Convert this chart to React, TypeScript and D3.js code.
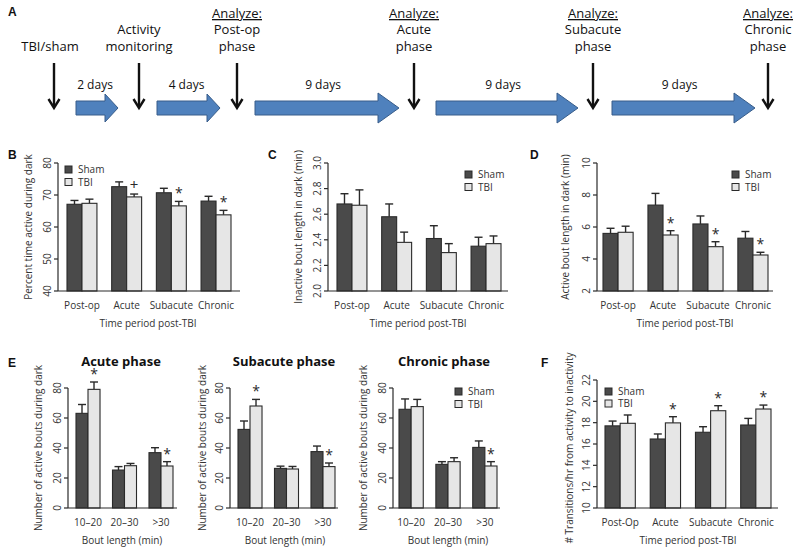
import React from "react";
import * as d3 from "d3";

// ---------- data ----------
const periods = ["Post-op", "Acute", "Subacute", "Chronic"];
const periodsF = ["Post-Op", "Acute", "Subacute", "Chronic"];
const boutBins = ["10–20", "20–30", ">30"];

const shamB = [67.1, 72.6, 70.7, 68.1];
const shamBErr = [1.2, 1.5, 1.4, 1.5];
const tbiB = [67.4, 69.4, 66.6, 63.8];
const tbiBErr = [1.3, 0.9, 1.4, 1.4];
const sigB = ["", "+", "*", "*"];
const ticksB = [40, 50, 60, 70, 80];

const shamC = [2.68, 2.58, 2.41, 2.35];
const shamCErr = [0.08, 0.1, 0.1, 0.07];
const tbiC = [2.67, 2.38, 2.3, 2.37];
const tbiCErr = [0.12, 0.08, 0.07, 0.06];
const sigC = ["", "", "", ""];
const ticksC = [2.0, 2.2, 2.4, 2.6, 2.8, 3.0];

const shamD = [5.6, 7.37, 6.19, 5.3];
const shamDErr = [0.32, 0.73, 0.5, 0.42];
const tbiD = [5.67, 5.5, 4.77, 4.25];
const tbiDErr = [0.38, 0.27, 0.31, 0.17];
const sigD = ["", "*", "*", "*"];
const ticksD = [2, 4, 6, 8, 10];

const shamEAcute = [63.1, 25.3, 36.9];
const shamEAcuteErr = [5.9, 2.3, 3.3];
const tbiEAcute = [79.1, 28.2, 28.0];
const tbiEAcuteErr = [4.9, 1.5, 2.9];
const sigEAcute = ["*", "", "*"];

const shamESub = [52.4, 26.4, 37.6];
const shamESubErr = [5.6, 1.5, 3.7];
const tbiESub = [68.0, 26.0, 27.6];
const tbiESubErr = [4.4, 1.7, 2.4];
const sigESub = ["*", "", "*"];

const shamEChr = [65.8, 29.1, 40.4];
const shamEChrErr = [6.9, 1.8, 4.3];
const tbiEChr = [67.6, 30.9, 28.0];
const tbiEChrErr = [4.8, 2.6, 2.9];
const sigEChr = ["", "", "*"];
const ticksE = [0, 20, 40, 60, 80];

const shamF = [17.7, 16.47, 17.1, 17.78];
const shamFErr = [0.45, 0.47, 0.52, 0.62];
const tbiF = [17.94, 17.98, 19.12, 19.28];
const tbiFErr = [0.78, 0.58, 0.47, 0.37];
const sigF = ["", "*", "*", "*"];
const ticksF = [10, 12, 14, 16, 18, 20, 22];

const timelineEvents = [
  { head: "", lines: ["TBI/sham"] },
  { head: "", lines: ["Activity", "monitoring"] },
  { head: "Analyze:", lines: ["Post-op", "phase"] },
  { head: "Analyze:", lines: ["Acute", "phase"] },
  { head: "Analyze:", lines: ["Subacute", "phase"] },
  { head: "Analyze:", lines: ["Chronic", "phase"] },
];
const dayLabels = ["2 days", "4 days", "9 days", "9 days", "9 days"];

// ---------- styles ----------
const FONT = "'Open Sans', 'DejaVu Sans', sans-serif";
const SHAM_FILL = "#4a4a4a";
const TBI_FILL = "#e6e6e6";
const INK = "#2a2a2a";

type PanelProps = {
  cats: string[];
  sham: number[];
  shamErr: number[];
  tbi: number[];
  tbiErr: number[];
  sig: string[];
  domain: [number, number];
  ticks: number[];
  fmt?: (v: number) => string;
  axisX: number;
  axisEnd: number;
  band: [number, number];
  pad: number;
  yTop: number;
  yBottom: number;
  ylabel: string;
  ylabelX: number;
  ylabelY: number;
  xlabel: string;
  xlabelX: number;
  xlabelY: number;
  catY: number;
  legend?: { x: number; y: number; gap: number };
  title?: { text: string; x: number; y: number };
  letter?: { text: string; x: number; y: number };
};

function BarPanel(p: PanelProps) {
  const y = d3.scaleLinear().domain(p.domain).range([p.yBottom, p.yTop]);
  const x = d3.scaleBand<string>().domain(p.cats).range(p.band).paddingInner(p.pad).paddingOuter(0);
  const bw = x.bandwidth() / 2;
  const fmt = p.fmt || ((v: number) => String(v));
  const capW = 4;
  const bars: any[] = [];
  p.cats.forEach((c, i) => {
    const x0 = x(c)!;
    const groups = [
      { v: p.sham[i], e: p.shamErr[i], fill: SHAM_FILL, xx: x0 },
      { v: p.tbi[i], e: p.tbiErr[i], fill: TBI_FILL, xx: x0 + bw },
    ];
    groups.forEach((g, k) => {
      const top = y(g.v);
      const et = y(g.v + g.e);
      const cx = g.xx + bw / 2;
      bars.push(
        <g key={c + k}>
          <line x1={cx} x2={cx} y1={top} y2={et} stroke={INK} strokeWidth={1.4} />
          <line x1={cx - capW} x2={cx + capW} y1={et} y2={et} stroke={INK} strokeWidth={1.4} />
          <rect x={g.xx} y={top} width={bw} height={p.yBottom - top} fill={g.fill} stroke={INK} strokeWidth={1.1} />
        </g>
      );
    });
    const s = p.sig[i];
    if (s) {
      const cx = x0 + bw + bw / 2;
      const et = y(p.tbi[i] + p.tbiErr[i]);
      bars.push(
        <text key={"s" + c} x={cx} y={s === "+" ? et - 4 : et - 3} textAnchor="middle" fontSize={s === "+" ? 15 : 14} fill={INK} fontFamily={FONT}>
          {s}
        </text>
      );
    }
  });
  return (
    <g fontFamily={FONT}>
      {p.letter && (
        <text x={p.letter.x} y={p.letter.y} fontSize={12} fontWeight="bold" fontFamily="'Liberation Sans', Arial, sans-serif" fill="#111">
          {p.letter.text}
        </text>
      )}
      {p.title && (
        <text x={p.title.x} y={p.title.y} fontSize={13} fontWeight="bold" textAnchor="middle" fill="#111">
          {p.title.text}
        </text>
      )}
      {bars}
      <line x1={p.axisX} x2={p.axisX} y1={p.yTop} y2={p.yBottom} stroke={INK} strokeWidth={1.2} />
      <line x1={p.axisX} x2={p.axisEnd} y1={p.yBottom} y2={p.yBottom} stroke={INK} strokeWidth={1.2} />
      {p.ticks.map((t) => (
        <g key={t}>
          <line x1={p.axisX - 4} x2={p.axisX} y1={y(t)} y2={y(t)} stroke={INK} strokeWidth={1.2} />
          <text transform={`translate(${p.axisX - 7},${y(t)}) rotate(-90)`} textAnchor="middle" fontSize={10} fill="#333">
            {fmt(t)}
          </text>
        </g>
      ))}
      {p.cats.map((c) => (
        <text key={c} x={x(c)! + x.bandwidth() / 2} y={p.catY} textAnchor="middle" fontSize={10} fill="#333">
          {c}
        </text>
      ))}
      <text transform={`translate(${p.ylabelX},${p.ylabelY}) rotate(-90)`} textAnchor="middle" fontSize={10} fill="#333">
        {p.ylabel}
      </text>
      <text x={p.xlabelX} y={p.xlabelY} textAnchor="middle" fontSize={10} fill="#333">
        {p.xlabel}
      </text>
      {p.legend && (
        <g>
          <rect x={p.legend.x} y={p.legend.y} width={7} height={7} fill={SHAM_FILL} stroke={INK} strokeWidth={1} />
          <text x={p.legend.x + 13} y={p.legend.y + 7} fontSize={10} fill="#333">Sham</text>
          <rect x={p.legend.x} y={p.legend.y + p.legend.gap} width={7} height={7} fill={TBI_FILL} stroke={INK} strokeWidth={1} />
          <text x={p.legend.x + 13} y={p.legend.y + p.legend.gap + 7} fontSize={10} fill="#333">TBI</text>
        </g>
      )}
    </g>
  );
}

function Timeline() {
  const eventXs = [54, 139, 237, 414, 593, 768];
  const arrowSpans: [number, number][] = [
    [76, 118],
    [157, 220],
    [255, 399],
    [436, 578],
    [612, 755],
  ];
  const cy = 108;
  return (
    <g fontFamily={FONT}>
      <text x={8} y={16} fontSize={12} fontWeight="bold" fontFamily="'Liberation Sans', Arial, sans-serif" fill="#111">A</text>
      {timelineEvents.map((ev, i) => {
        const ex = eventXs[i];
        const single = ev.lines.length === 1;
        return (
          <g key={i}>
            {ev.head && (
              <text x={ex} y={18} textAnchor="middle" fontSize={13} fill="#111" textDecoration="underline">
                {ev.head}
              </text>
            )}
            {ev.lines.map((l, j) => (
              <text key={j} x={ex - (single ? 4 : 0)} y={single ? 51 : 34 + j * 16.5} textAnchor="middle" fontSize={13} fill="#111">
                {l}
              </text>
            ))}
            <line x1={ex} x2={ex} y1={63} y2={107} stroke="#111" strokeWidth={2.4} />
            <path d={`M${ex - 5.5},${99} L${ex},${108} L${ex + 5.5},${99}`} fill="none" stroke="#111" strokeWidth={2.4} />
          </g>
        );
      })}
      {arrowSpans.map(([a, b], i) => {
        const long = b - a > 100;
        const hl = long ? 21 : 13;
        const sh = 7;
        const hh = long ? 15 : 14;
        const d = `M${a},${cy - sh} L${b - hl},${cy - sh} L${b - hl},${cy - hh} L${b},${cy} L${b - hl},${cy + hh} L${b - hl},${cy + sh} L${a},${cy + sh} Z`;
        return (
          <g key={i}>
            <path d={d} fill="#4f81bd" stroke="#385d8a" strokeWidth={1} />
            <text x={(a + b) / 2 - (long ? 4 : 2)} y={89} textAnchor="middle" fontSize={12} fill="#111">
              {dayLabels[i]}
            </text>
          </g>
        );
      })}
    </g>
  );
}

export default function App() {
  const fmt1 = d3.format(".1f");
  return (
    <svg width={800} height={552} style={{ display: "block", position: "absolute", left: 0, top: 0, background: "#fff" }}>
      <rect width={800} height={552} fill="#fff" />
      <Timeline />
      <BarPanel
        cats={periods} sham={shamB} shamErr={shamBErr} tbi={tbiB} tbiErr={tbiBErr} sig={sigB}
        domain={[40, 80]} ticks={ticksB} axisX={58} axisEnd={240} band={[67, 231]} pad={0.33}
        yTop={163} yBottom={291} ylabel="Percent time active during dark" ylabelX={32} ylabelY={227}
        xlabel="Time period post-TBI" xlabelX={148} xlabelY={327} catY={309}
        legend={{ x: 65, y: 166, gap: 12.5 }} letter={{ text: "B", x: 8, y: 159 }}
      />
      <BarPanel
        cats={periods} sham={shamC} shamErr={shamCErr} tbi={tbiC} tbiErr={tbiCErr} sig={sigC}
        domain={[2.0, 3.0]} ticks={ticksC} fmt={fmt1} axisX={328} axisEnd={508} band={[337, 501]} pad={0.33}
        yTop={163} yBottom={291} ylabel="Inactive bout length in dark (min)" ylabelX={302} ylabelY={227}
        xlabel="Time period post-TBI" xlabelX={418} xlabelY={327} catY={309}
        legend={{ x: 465, y: 171, gap: 12.5 }} letter={{ text: "C", x: 268, y: 159 }}
      />
      <BarPanel
        cats={periods} sham={shamD} shamErr={shamDErr} tbi={tbiD} tbiErr={tbiDErr} sig={sigD}
        domain={[2, 10]} ticks={ticksD} axisX={597} axisEnd={773} band={[603, 768]} pad={0.33}
        yTop={163} yBottom={291} ylabel="Active bout length in dark (min)" ylabelX={569} ylabelY={227}
        xlabel="Time period post-TBI" xlabelX={685} xlabelY={327} catY={309}
        legend={{ x: 732, y: 171, gap: 12.5 }} letter={{ text: "D", x: 530, y: 159 }}
      />
      <BarPanel
        cats={boutBins} sham={shamEAcute} shamErr={shamEAcuteErr} tbi={tbiEAcute} tbiErr={tbiEAcuteErr} sig={sigEAcute}
        domain={[0, 80]} ticks={ticksE} axisX={68} axisEnd={177} band={[76, 173]} pad={0.342}
        yTop={388} yBottom={508} ylabel="Number of active bouts during dark" ylabelX={42} ylabelY={448}
        xlabel="Bout length (min)" xlabelX={122} xlabelY={544} catY={526}
        title={{ text: "Acute phase", x: 121, y: 366 }} letter={{ text: "E", x: 8, y: 367 }}
      />
      <BarPanel
        cats={boutBins} sham={shamESub} shamErr={shamESubErr} tbi={tbiESub} tbiErr={tbiESubErr} sig={sigESub}
        domain={[0, 80]} ticks={ticksE} axisX={230} axisEnd={338} band={[238, 335]} pad={0.342}
        yTop={388} yBottom={508} ylabel="Number of active bouts during dark" ylabelX={206} ylabelY={448}
        xlabel="Bout length (min)" xlabelX={285} xlabelY={544} catY={526}
        title={{ text: "Subacute phase", x: 284, y: 366 }}
      />
      <BarPanel
        cats={boutBins} sham={shamEChr} shamErr={shamEChrErr} tbi={tbiEChr} tbiErr={tbiEChrErr} sig={sigEChr}
        domain={[0, 80]} ticks={ticksE} axisX={393} axisEnd={500} band={[399, 497]} pad={0.342}
        yTop={388} yBottom={508} ylabel="Number of active bouts during dark" ylabelX={367} ylabelY={448}
        xlabel="Bout length (min)" xlabelX={448} xlabelY={544} catY={526}
        title={{ text: "Chronic phase", x: 444, y: 366 }} legend={{ x: 455, y: 388, gap: 12.5 }}
      />
      <BarPanel
        cats={periodsF} sham={shamF} shamErr={shamFErr} tbi={tbiF} tbiErr={tbiFErr} sig={sigF}
        domain={[10, 22]} ticks={ticksF} axisX={597} axisEnd={778} band={[605, 771]} pad={0.33}
        yTop={380} yBottom={508} ylabel="# Transitions/hr  from activity to inactivity" ylabelX={573} ylabelY={448}
        xlabel="Time period post-TBI" xlabelX={688} xlabelY={544} catY={526}
        legend={{ x: 605, y: 388, gap: 12 }} letter={{ text: "F", x: 541, y: 367 }}
      />
    </svg>
  );
}
